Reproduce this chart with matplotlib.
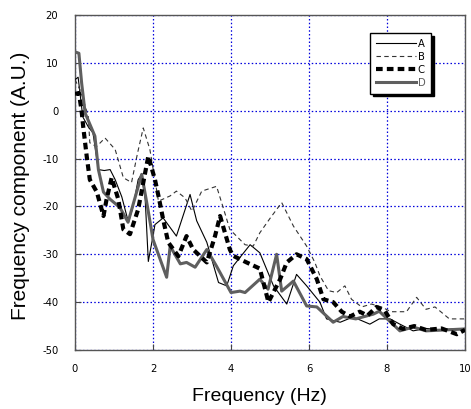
import matplotlib
matplotlib.use("Agg")
import matplotlib.pyplot as plt

# Series A (thin solid)
a_x = [0, 0.08, 0.2, 0.35, 0.46, 0.6, 0.75, 0.9, 1.03, 1.2, 1.37, 1.49, 1.62, 1.71, 1.8, 1.88, 2.0, 2.05,
       2.26, 2.6, 2.95, 3.12, 3.38, 3.68, 3.89, 4.06, 4.49, 4.74, 5.09, 5.43, 5.68, 5.94, 6.28, 6.45,
       6.8, 7.13, 7.56, 7.8, 8.08, 8.33, 8.67, 9.0, 9.4, 9.7, 10]
a_y = [6.5, 7, -1.3, -3.5, -4.6, -12.3, -12.5, -12.3, -14.4, -18, -23.3, -20, -14.4, -13.3, -18.5, -31.5,
       -26.2, -23.8, -22.4, -26.2, -17.5, -23, -27.5, -35.9, -36.6, -32.4, -28, -29.7, -36.6, -40.4,
       -34.2, -36.6, -40, -43.5, -44.2, -43.1, -44.6, -43.5, -43.5, -44.6, -46, -45.5, -45.8, -45.6, -45.5]

# Series B (thin dashed)
b_x = [0, 0.15, 0.34, 0.38, 0.55, 0.77, 1.03, 1.24, 1.45, 1.6, 1.75, 1.92, 2.14, 2.44, 2.6, 2.82, 3.0,
       3.25, 3.63, 3.76, 3.97, 4.36, 4.57, 4.74, 5.0, 5.3, 5.6, 5.94, 6.15, 6.28, 6.5, 6.71, 6.92, 7.09,
       7.35, 7.6, 7.86, 8.1, 8.5, 8.76, 9.0, 9.23, 9.6, 9.95, 10]
b_y = [6.5, 4, -1.2, -6.7, -7.5, -5.7, -8.1, -14, -15, -9, -3.6, -8.1, -18.9, -17.8, -16.8, -18.2, -21,
       -16.8, -15.8, -19.2, -24.8, -28, -28.3, -25.5, -22.5, -19.2, -24.1, -28.3, -31.7, -34.5, -37.6,
       -38, -36.6, -39.4, -41, -40.4, -41, -42, -42, -39, -41.5, -41, -43.5, -43.5, -43.5]

# Series C (thick dashed)
c_x = [0, 0.1, 0.17, 0.21, 0.3, 0.38, 0.56, 0.73, 0.81, 0.94, 1.11, 1.24, 1.41, 1.62, 1.88, 2.05, 2.14,
       2.26, 2.39, 2.65, 2.86, 3.03, 3.38, 3.59, 3.72, 3.97, 4.05, 4.4, 4.74, 4.96, 5.26, 5.43, 5.68,
       5.94, 6.2, 6.37, 6.62, 6.84, 7.05, 7.3, 7.5, 7.73, 7.95, 8.16, 8.41, 8.7, 9.0, 9.4, 9.79, 10]
c_y = [3.5, 3.7, -0.1, -3.3, -9.5, -14.4, -17, -22, -18.5, -14, -18.5, -24.8, -25.8, -20.6, -9.5, -14.4,
       -17.8, -22.7, -27.5, -30.4, -26.2, -29, -31.7, -26.2, -22, -29, -30.3, -31.7, -33, -40, -35.2,
       -31.7, -30, -31, -35.2, -39.4, -40, -42, -43, -42, -42.8, -41, -41.9, -44.6, -45.6, -45, -45.8,
       -45.5, -46.7, -45.8]

# Series D (thick gray solid)
d_x = [0, 0.1, 0.17, 0.26, 0.51, 0.6, 0.73, 0.9, 1.15, 1.36, 1.71, 1.87, 2.0, 2.35, 2.44, 2.7, 2.86,
       3.08, 3.38, 3.63, 4.0, 4.23, 4.36, 4.74, 4.95, 5.17, 5.3, 5.6, 5.94, 6.2, 6.62, 6.87, 7.2, 7.65,
       7.8, 8.15, 8.33, 8.67, 9.0, 9.5, 10]
d_y = [12.3, 12, 5.8, -0.5, -5.3, -12.3, -17, -18.5, -20.2, -23.3, -13.3, -20.6, -26.9, -34.8, -28.3,
       -32, -31.7, -32.7, -29, -32.5, -38, -37.7, -38, -35.2, -37.3, -30, -37.7, -35.6, -40.8, -41,
       -44.2, -43, -43.5, -42.5, -41.9, -44.6, -46, -45.2, -46, -45.8, -45.6]

labels = ["A", "B", "C", "D"]
x_ticks = [0, 2, 4, 6, 8, 10]
y_ticks = [-50, -40, -30, -20, -10, 0, 10, 20]

fig = plt.figure(figsize=(4.71, 4.09), dpi=100)
ax = fig.add_axes([75 / 471, 59 / 409, 390 / 471, 335 / 409])

gray = "#5f5f5f"
ax.plot(a_x, a_y, color="black", lw=0.8, label=labels[0], zorder=3)
ax.plot(b_x, b_y, color="#333333", lw=0.8, dashes=(4, 3), label=labels[1], zorder=3)
ax.plot(c_x, c_y, color="black", lw=3.0, dashes=(1.6, 1.0), label=labels[2], zorder=4)
ax.plot(d_x, d_y, color=gray, lw=2.2, label=labels[3], zorder=3)

ax.set_xlim(0, 10)
ax.set_ylim(-50, 20)
ax.set_xticks(x_ticks)
ax.set_yticks(y_ticks)
tick_font = dict(family="DejaVu Sans", stretch="condensed", size=8)
ax.set_xticklabels([str(t) for t in x_ticks], **tick_font)
ax.set_yticklabels([str(t) for t in y_ticks], **tick_font)
ax.tick_params(direction="in", length=4, color="#444444", width=0.8)
ax.tick_params(axis="y", pad=12)
ax.tick_params(axis="x", pad=10)
ax.grid(True, color="#0000dd", linestyle=(0, (1.2, 1.8)), linewidth=0.9)
for s in ax.spines.values():
    s.set_color("#555555")
    s.set_linewidth(1.0)

ax.set_xlabel("Frequency (Hz)", family="Liberation Sans", size=14)
ax.set_ylabel("Frequency component (A.U.)", family="Liberation Sans", size=15)
ax.xaxis.set_label_coords(0.474, -0.112)
ax.yaxis.set_label_coords(-0.115, 0.49)

leg = ax.legend(loc="upper left", bbox_to_anchor=(0.756, 0.946), borderaxespad=0,
                fancybox=False, shadow={"color": "black", "alpha": 1.0},
                framealpha=1, edgecolor="black", handlelength=3.6, handletextpad=0.15,
                labelspacing=0.25, borderpad=0.55,
                prop=dict(family="DejaVu Sans", stretch="condensed", size=8),
                labelcolor=["black", "black", "black", gray])
leg.get_frame().set_linewidth(1.0)
leg.set_zorder(10)

fig.savefig("out.png", dpi=100)
